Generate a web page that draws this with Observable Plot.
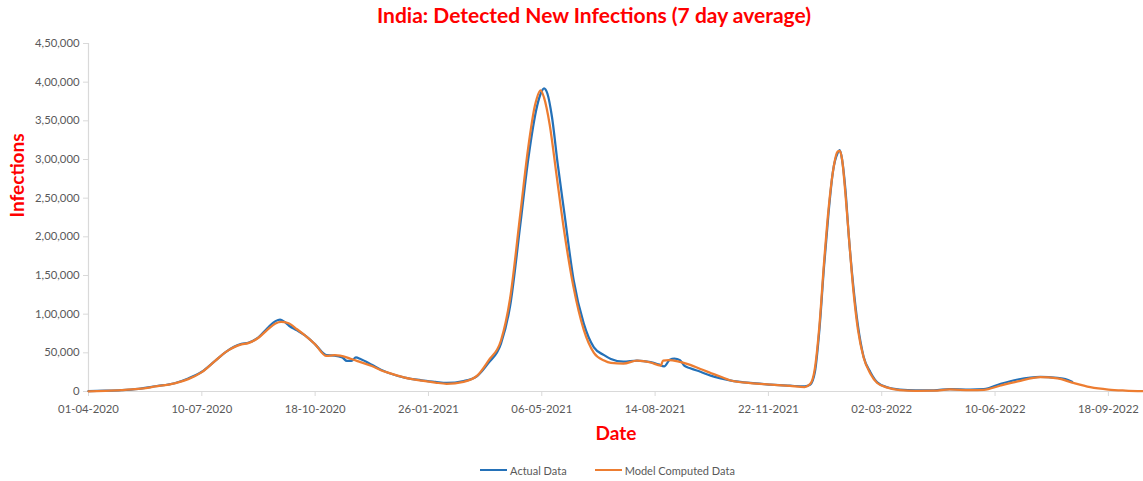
<!DOCTYPE html>
<html><head><meta charset="utf-8">
<script src="https://cdn.jsdelivr.net/npm/d3@7"></script>
<script src="https://cdn.jsdelivr.net/npm/@observablehq/plot@0.6"></script>
<style>
body{margin:0;background:#fff;font-family:Lato,"Open Sans",sans-serif;width:1143px;height:481px;overflow:hidden}
#title{height:30px;line-height:30px;text-align:center;color:#ff0000;font-weight:bold;font-size:21px;padding-left:45px;box-sizing:border-box;width:1143px}
#chart{height:420px}
#legend{height:31px;display:flex;justify-content:center;align-items:center;font-size:11px;color:#595959;padding-left:72px;padding-top:9px;box-sizing:border-box;width:1143px}
.item{display:flex;align-items:center;margin:0 14px}
.sw{display:inline-block;width:27px;height:2.5px;margin-right:3px}
</style></head><body>
<div id="title">India: Detected New Infections (7 day average)</div>
<div id="chart"></div>
<div id="legend"></div>
<script>
const seriesNames = ["Actual Data", "Model Computed Data"];
const seriesColors = ["#2471B8", "#ED7D31"];

const actualDates = ["2020-04-01","2020-04-16","2020-04-30","2020-05-15","2020-05-30","2020-06-16","2020-06-28","2020-07-10","2020-07-22","2020-07-31","2020-08-14","2020-08-20","2020-08-29","2020-09-06","2020-09-13","2020-09-17","2020-09-21","2020-09-25","2020-10-02","2020-10-09","2020-10-18","2020-10-28","2020-11-04","2020-11-11","2020-11-15","2020-11-19","2020-11-23","2020-11-27","2020-12-07","2020-12-15","2020-12-22","2021-01-05","2021-01-20","2021-02-01","2021-02-11","2021-02-26","2021-03-10","2021-03-20","2021-03-31","2021-04-08","2021-04-17","2021-04-24","2021-05-02","2021-05-05","2021-05-08","2021-05-11","2021-05-15","2021-05-20","2021-05-26","2021-06-03","2021-06-12","2021-06-21","2021-06-30","2021-07-06","2021-07-17","2021-07-29","2021-08-10","2021-08-17","2021-08-22","2021-08-27","2021-08-31","2021-09-05","2021-09-09","2021-09-14","2021-09-23","2021-10-02","2021-10-11","2021-10-19","2021-11-06","2021-11-24","2021-12-11","2021-12-24","2021-12-29","2022-01-02","2022-01-06","2022-01-10","2022-01-14","2022-01-18","2022-01-22","2022-01-24","2022-01-26","2022-01-29","2022-02-01","2022-02-05","2022-02-09","2022-02-14","2022-02-20","2022-02-26","2022-03-07","2022-03-18","2022-04-01","2022-04-17","2022-05-01","2022-05-19","2022-05-31","2022-06-15","2022-06-30","2022-07-20","2022-08-04","2022-08-11","2022-08-17"];
const actualValues = [500,1000,1800,3500,6800,10700,16800,25500,40000,51000,61500,63000,70000,82000,91000,93000,90000,85000,79000,72500,61000,47000,46500,44000,39500,39500,44000,42000,34500,28000,24000,18000,14500,12500,11000,13500,20000,37000,62000,110000,215000,300000,370000,385000,392000,385000,355000,295000,230000,145000,88000,57000,47000,42000,38500,40000,38000,35000,32500,41000,42500,40500,33000,30000,25500,20500,17000,14500,11000,9000,7500,6500,9000,25000,80000,160000,230000,285000,308000,312000,300000,260000,200000,135000,85000,45000,25000,12000,5500,2500,1500,1500,3200,2500,3000,10000,15500,19000,17500,16000,12500];

const modelDates = ["2020-04-01","2020-04-16","2020-04-30","2020-05-15","2020-05-30","2020-06-16","2020-06-28","2020-07-10","2020-07-22","2020-07-31","2020-08-14","2020-08-20","2020-08-29","2020-09-06","2020-09-13","2020-09-18","2020-09-24","2020-10-02","2020-10-09","2020-10-18","2020-10-28","2020-11-04","2020-11-09","2020-11-19","2020-11-27","2020-12-07","2020-12-15","2020-12-22","2021-01-05","2021-01-20","2021-02-01","2021-02-11","2021-02-26","2021-03-10","2021-03-20","2021-03-31","2021-04-08","2021-04-17","2021-04-24","2021-04-30","2021-05-05","2021-05-08","2021-05-13","2021-05-19","2021-05-25","2021-06-03","2021-06-12","2021-06-21","2021-06-30","2021-07-06","2021-07-17","2021-07-29","2021-08-10","2021-08-19","2021-08-21","2021-08-26","2021-09-03","2021-09-14","2021-09-23","2021-10-02","2021-10-11","2021-10-19","2021-11-06","2021-11-24","2021-12-11","2021-12-24","2021-12-29","2022-01-02","2022-01-06","2022-01-10","2022-01-14","2022-01-18","2022-01-22","2022-01-24","2022-01-26","2022-01-29","2022-02-01","2022-02-05","2022-02-09","2022-02-14","2022-02-20","2022-02-26","2022-03-07","2022-03-18","2022-04-01","2022-04-17","2022-05-01","2022-05-19","2022-05-31","2022-06-15","2022-06-30","2022-07-20","2022-08-04","2022-08-17","2022-09-02","2022-09-18","2022-10-03","2022-10-19"];
const modelValues = [300,900,1800,3400,6500,10500,16000,25000,40000,51000,61000,62500,69500,80000,88000,90000,88500,80500,72500,61000,46000,47000,46500,42000,38000,33000,27500,24000,18000,14000,11500,10000,12500,20500,40000,66000,120000,229000,315000,370000,389500,380000,345000,280000,215000,135000,80000,50000,40000,37000,36000,40000,37500,33500,40000,40500,39000,34500,29000,24000,19000,14500,10800,9000,7300,5800,10000,30000,85000,165000,235000,285000,310000,311000,300000,255000,200000,130000,80000,44000,23000,11000,5000,1800,800,1000,2600,1800,2200,7800,13000,18500,17000,11500,5600,2500,1200,400];

const xDomain = ["2020-04-01", "2022-10-19"];
const xTickDates = ["2020-04-01","2020-07-10","2020-10-18","2021-01-26","2021-05-06","2021-08-14","2021-11-22","2022-03-02","2022-06-10","2022-09-18"];
const xTickLabels = ["01-04-2020","10-07-2020","18-10-2020","26-01-2021","06-05-2021","14-08-2021","22-11-2021","02-03-2022","10-06-2022","18-09-2022"];
const yTicks = [0,50000,100000,150000,200000,250000,300000,350000,400000,450000];
const yTickLabels = ["0","50,000","1,00,000","1,50,000","2,00,000","2,50,000","3,00,000","3,50,000","4,00,000","4,50,000"];

const parse = d3.utcParse("%Y-%m-%d");
const rows = [];
actualDates.forEach((d, i) => rows.push({date: parse(d), value: actualValues[i], series: seriesNames[0]}));
modelDates.forEach((d, i) => rows.push({date: parse(d), value: modelValues[i], series: seriesNames[1]}));
const ticks = xTickDates.map(parse);

const grey = "#d9d9d9";
const chart = Plot.plot({
  width: 1143, height: 420,
  marginLeft: 88, marginRight: 0, marginTop: 13, marginBottom: 59,
  style: {fontFamily: "Lato, 'Open Sans', sans-serif", fontSize: "11.3px", color: "#595959", background: "white", overflow: "visible"},
  x: {type: "utc", domain: xDomain.map(parse)},
  y: {domain: [0, 450000]},
  color: {domain: seriesNames, range: seriesColors},
  marks: [
    Plot.ruleY([0], {stroke: grey, strokeWidth: 1.2}),
    Plot.ruleX([parse(xDomain[0])], {stroke: grey, strokeWidth: 1.2}),
    Plot.axisX({ticks, tickFormat: (d, i) => xTickLabels[i], tickSize: 5, tickPadding: 8, stroke: grey, fill: "#595959", label: null}),
    Plot.axisY({ticks: yTicks, tickFormat: (d, i) => yTickLabels[i], tickSize: 5, tickPadding: 4, stroke: grey, fill: "#595959", label: null}),
    Plot.line(rows, {x: "date", y: "value", z: "series", stroke: "series", strokeWidth: 2.25, curve: "monotone-x"}),
    Plot.text(["Infections"], {frameAnchor: "left", dx: -71, rotate: -90, fill: "#ff0000", fontWeight: "bold", fontSize: 19}),
    Plot.text(["Date"], {frameAnchor: "bottom", dy: 48, fill: "#ff0000", fontWeight: "bold", fontSize: 19})
  ]
});
document.getElementById("chart").appendChild(chart);

const legend = document.getElementById("legend");
seriesNames.forEach((n, i) => {
  const it = document.createElement("span"); it.className = "item";
  const sw = document.createElement("span"); sw.className = "sw"; sw.style.background = seriesColors[i];
  it.appendChild(sw); it.appendChild(document.createTextNode(n));
  legend.appendChild(it);
});
</script>
</body></html>
